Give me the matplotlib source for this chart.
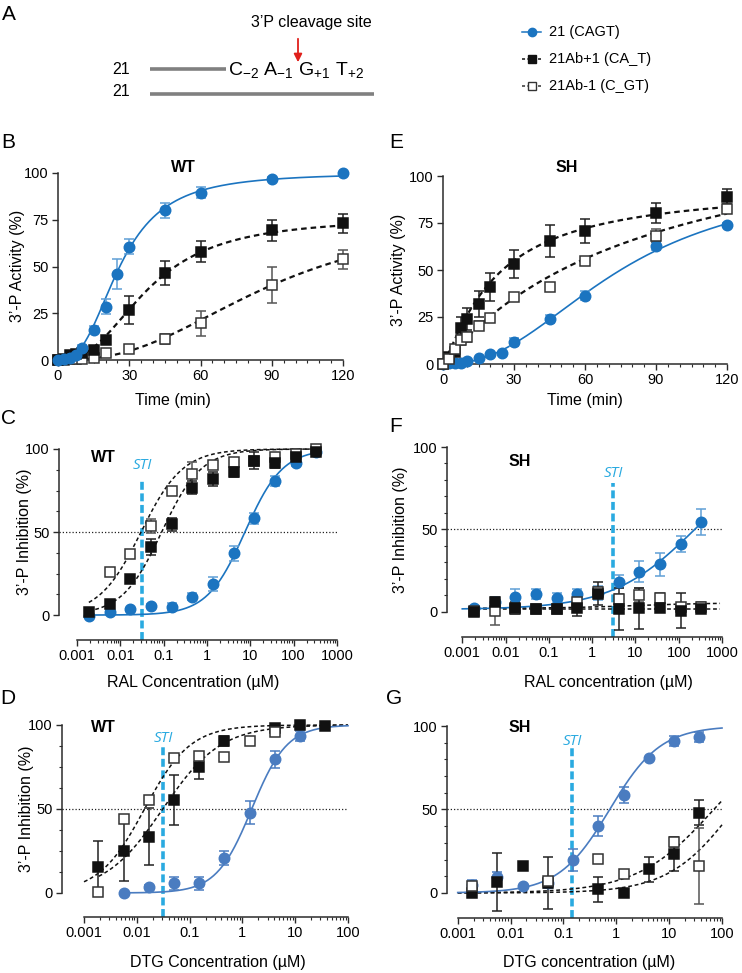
import numpy as np
import matplotlib
matplotlib.use("Agg")
import matplotlib.pyplot as plt
from matplotlib.ticker import MultipleLocator, FixedLocator, NullFormatter

plt.rcParams['font.family'] = ['Liberation Sans', 'DejaVu Sans']
plt.rcParams['mathtext.fontset'] = 'custom'
plt.rcParams['mathtext.rm'] = 'Liberation Sans'
plt.rcParams['mathtext.it'] = 'Liberation Sans:italic'

# ---------------- data ----------------
series_names = ["21 (CAGT)", "21Ab+1 (CA_T)", "21Ab-1 (C_GT)"]

# B: WT time course
b_t_blue = [0, 2.5, 5, 7.5, 10, 15, 20, 25, 30, 45, 60, 90, 120]
b_y_blue = [0, 0.3, 1, 2.5, 6.4, 16.2, 28.5, 46, 60.6, 80, 89.5, 96.8, 100]
b_e_blue = [0, 0, 0.5, 1, 1.5, 2, 4, 8, 4, 4, 3, 1, 0.5]
b_t_sq = [0, 2.5, 5, 7.5, 10, 15, 20, 30, 45, 60, 90, 120]
b_y_black = [0, 0.5, 2.5, 3, 3.5, 5.3, 10.7, 26.7, 46.7, 57.9, 69.3, 73.1]
b_e_black = [0, 0, 0.5, 1, 1, 1, 2, 7.5, 6.5, 5.5, 5.5, 5]
b_y_open = [0, 0, 0.3, 0.5, 0.7, 1, 3.6, 5.9, 11.2, 19.6, 40, 53.9]
b_e_open = [0, 0, 0, 0, 0, 0.5, 1, 1, 2.5, 6.5, 9.5, 5]

# E: SH time course
e_t_blue = [0, 2.5, 5, 7.5, 10, 15, 20, 25, 30, 45, 60, 90, 120]
e_y_blue = [0, 0.3, 0.7, 0.7, 1.6, 3.4, 5.1, 6, 11.7, 23.8, 36.4, 62.8, 74.1]
e_e_blue = [0, 0, 0, 0, 0.5, 0.5, 0.5, 0.5, 2, 2, 2.5, 2, 1]
e_t_sq = [0, 2.5, 5, 7.5, 10, 15, 20, 30, 45, 60, 90, 120]
e_y_black = [0, 3.5, 6.6, 19, 24, 32, 41.1, 53, 65.2, 70.6, 80.3, 89]
e_e_black = [0, 1, 2, 6, 6, 7, 7.5, 7.5, 8.5, 6.5, 5.5, 4]
e_y_open = [0, 2.5, 8, 12.8, 14.5, 20.4, 24.3, 35.8, 41, 54.8, 68.3, 82.3]
e_e_open = [0, 1, 2, 2.5, 3, 2.5, 2, 2, 2, 1, 3.5, 1]

# concentrations (uM)
conc_ral = [0.00188, 0.00564, 0.0169, 0.0508, 0.152, 0.457, 1.37, 4.11, 12.3, 37.0, 111, 333]
conc_dtg = [0.00188, 0.00564, 0.0169, 0.0508, 0.152, 0.457, 1.37, 4.11, 12.3, 37.0]
nan = np.nan

# C: WT RAL
c_y_blue = [-0.6, 2, 3.4, 5.6, 5, 11, 18.7, 37.2, 58.2, 80.7, 91.4, 98.4]
c_e_blue = [1, 1, 1, 1, 2.5, 2, 4, 4.5, 3.5, 3, 1.5, 1]
c_y_black = [2, 6.6, 22, 41, 54.6, 76.7, 82, 86.4, 93, 91.8, 95.4, 98]
c_e_black = [1, 1, 2, 5, 4, 4, 4, 3, 5, 3, 2, 1]
c_y_open = [nan, 26, 37, 53.6, 74.9, 85, 90.4, 92, 93, 95, 97, 100]
c_e_open = [0, 0.5, 1, 4, 2, 7, 1.5, 1, 1, 1, 1, 0.5]

# F: SH RAL
f_y_blue = [2.2, 6.2, 8.9, 10.9, 8.3, 10.7, 11.5, 18.4, 24.4, 28.9, 41.2, 54.7]
f_e_blue = [1.5, 3, 5, 3, 3, 3.5, 4, 4, 6.5, 7, 5, 8]
f_y_black = [0.2, 6.2, 2.2, 1.8, 1.6, 2.2, 10.9, 1.8, 2.2, 2.6, 0.8, 1.8]
f_e_black = [1.5, 2, 3.7, 1, 1, 4.8, 7, 13, 12.6, 1.5, 10.5, 2]
f_y_open = [0.5, 0.6, 2, 2, 2, 6.2, 12, 7.9, 10.3, 8.7, 3, 3.2]
f_e_open = [1, 8.5, 1, 1, 1, 2, 3, 3, 4, 3, 2, 3]

# D: WT DTG
d_y_blue = [nan, 0.2, 3.8, 5.8, 5.8, 20.7, 47.8, 79.6, 93.6, nan]
d_e_blue = [0, 0.5, 1, 4, 4, 4, 7, 5, 3, 0]
d_y_black = [15.7, 25, 33.5, 55.4, 74.8, 90.6, nan, 98, 100, 99.4]
d_e_black = [15.4, 18, 17, 14.7, 7, 3, 0, 1.5, 1, 1]
d_y_open = [0.4, 44, 55.4, 80.2, 81.7, 81.1, 90.6, 95.6, nan, nan]
d_e_open = [0, 0, 0, 0, 0, 0, 0, 1, 0, 0]

# G: SH DTG
g_y_blue = [4.8, 9.4, 4.4, 5.8, 19.8, 40.3, 58.7, 80.7, 91, 93.6]
g_e_blue = [3, 3, 0.5, 3, 6.4, 6, 5, 1, 3, 3]
g_y_black = [0, 6.8, 16.2, 6, nan, 2.2, 0.2, 14.2, 23.4, 48]
g_e_black = [1, 17.4, 0, 15.7, 0, 7.5, 0, 7.5, 10, 7.5]
g_y_open = [4, nan, nan, 7.2, nan, 20.4, 11.2, nan, 30.7, 16.2]
g_e_open = [2, 0, 0, 1, 0, 2, 1.5, 0, 3, 23]

# fitted-curve parameters (bottom, top, x50, hill)
fit_B = {"blue": (0, 100, 26, 2.7), "black": (0, 76, 38, 2.5), "open": (0, 80, 90, 2.5)}
fit_E = {"blue": (0, 100, 75, 2.3), "black": (0, 95, 23, 1.2), "open": (0, 140, 90, 1.0)}
fit_C = {"blue": (0, 100, 7.5, 1.0), "black": (0, 100, 0.09, 0.95), "open": (0, 100, 0.03, 0.9)}
fit_F = {"blue": (1.5, 100, 250, 0.45), "black": (1.8, 1.8, 1, 1), "open": (2.2, 5.5, 10, 0.5)}
fit_D = {"blue": (0, 100, 1.5, 1.3), "black": (0, 100, 0.031, 0.79), "open": (0, 100, 0.014, 1.0)}
fit_G = {"blue": (0, 100, 0.75, 0.9), "black": (0, 100, 70, 0.6), "open": (0, 100, 170, 0.7)}

sti_C, sti_F, sti_D, sti_G = 0.0316, 3.1, 0.0316, 0.145

# ---------------- style ----------------
W, H = 742, 973
BLUE = '#1b74c0'
BLUE2 = '#4a7cc0'
BLUE_ERR = '#5f9fd6'
STI = '#2aaae0'
SPINE = '#2b2b2b'
TICK_FS = 10.5
LAB_FS = 11.5

fig = plt.figure(figsize=(W / 100, H / 100), dpi=100)
ov = fig.add_axes([0, 0, 1, 1])
ov.set_xlim(0, W)
ov.set_ylim(H, 0)
ov.axis('off')
ov.set_zorder(5)


def add_ax(left, right, top, bottom):
    return fig.add_axes([left / W, 1 - bottom / H, (right - left) / W, (bottom - top) / H])


def hill(x, p):
    b, t, x50, n = p
    x = np.asarray(x, float)
    return b + (t - b) / (1 + (x50 / np.maximum(x, 1e-12)) ** n)


def style(ax):
    for s in ['top', 'right']:
        ax.spines[s].set_visible(False)
    for s in ['left', 'bottom']:
        ax.spines[s].set_color(SPINE)
        ax.spines[s].set_linewidth(1.1)
    ax.tick_params(which='major', direction='out', length=4.5, width=1.0, color=SPINE,
                   labelsize=TICK_FS, pad=2)
    ax.tick_params(which='minor', direction='out', length=2.5, width=0.8, color=SPINE)
    ax.patch.set_alpha(0)


def pts(ax, x, y, e, kind, blue=BLUE):
    x = np.asarray(x, float)
    y = np.asarray(y, float)
    e = np.asarray(e, float)
    if kind == 'blue':
        ecol, mfc, mec, mk, ms = BLUE_ERR if blue == BLUE else blue, blue, blue, 'o', 7.5
    elif kind == 'black':
        ecol, mfc, mec, mk, ms = '#222222', '#111111', '#111111', 's', 7
    else:
        ecol, mfc, mec, mk, ms = '#555555', 'white', '#333333', 's', 7
    m = ~np.isnan(y)
    em = m & (e > 0.8)
    ax.errorbar(x[em], y[em], yerr=e[em], fmt='none', ecolor=ecol, elinewidth=1.1,
                capsize=3.5, capthick=1.1, clip_on=False, zorder=3)
    ax.plot(x[m], y[m], linestyle='none', marker=mk, ms=ms, mfc=mfc, mec=mec, mew=1.1,
            clip_on=False, zorder=4)


def curve(ax, x, p, kind, blue=BLUE):
    if kind == 'blue':
        ax.plot(x, hill(x, p), color=blue, lw=1.2, zorder=2, clip_on=False)
    else:
        lw = 1.6 if ax.get_xscale() == 'linear' else 1.1
        ax.plot(x, hill(x, p), color='#111111', lw=lw, ls=(0, (2.5, 1.8)), zorder=2,
                clip_on=False)


# ---------------- panel A ----------------
ov.text(2, 15, 'A', fontsize=15, va='center', ha='left')
ov.text(311, 22, '3’P cleavage site', fontsize=11.5, ha='center', va='center')
ov.annotate('', xy=(298, 65), xytext=(298, 36),
            arrowprops=dict(arrowstyle='-|>', color='#e0201b', lw=1.3, mutation_scale=12))
ov.text(121, 69, '21', fontsize=11.5, ha='center', va='center')
ov.text(121, 92, '21', fontsize=11.5, ha='center', va='center')
ov.plot([150, 226], [69, 69], color='#808080', lw=2.6, solid_capstyle='butt')
ov.plot([150, 374], [94, 94], color='#808080', lw=2.6, solid_capstyle='butt')
ov.text(228, 70, r'C$_{\mathrm{-2}}$ A$_{\mathrm{-1}}$ G$_{\mathrm{+1}}$ T$_{\mathrm{+2}}$',
        fontsize=14, ha='left', va='center')

# legend
leg_y = [32, 59, 86]
styles = [('blue', '-', BLUE), ('black', (0, (2, 1.5)), '#111111'), ('open', (0, (2, 1.5)), '#333333')]
for yy, name, (kind, ls, col) in zip(leg_y, series_names, styles):
    ov.plot([522, 541], [yy, yy], color=col, lw=1.1, ls=ls)
    if kind == 'blue':
        ov.plot([531.5], [yy], marker='o', ms=6, color=BLUE)
    elif kind == 'black':
        ov.plot([531.5], [yy], marker='s', ms=5.5, color='#111111')
    else:
        ov.plot([531.5], [yy], marker='s', ms=5.5, mfc='white', mec='#333333', mew=1)
    ov.text(549, yy, name, fontsize=10.5, ha='left', va='center')

# ---------------- panel B ----------------
axB = add_ax(58, 343, 173, 360)
style(axB)
axB.set_xlim(0, 120)
axB.set_ylim(0, 100)
axB.set_xticks([0, 30, 60, 90, 120])
axB.xaxis.set_minor_locator(MultipleLocator(5))
axB.set_yticks([0, 25, 50, 75, 100])
tt = np.linspace(0, 120, 400)
curve(axB, tt, fit_B['open'], 'open')
curve(axB, tt, fit_B['black'], 'black')
curve(axB, tt, fit_B['blue'], 'blue')
pts(axB, b_t_sq, b_y_open, b_e_open, 'open')
pts(axB, b_t_sq, b_y_black, b_e_black, 'black')
pts(axB, b_t_blue, b_y_blue, b_e_blue, 'blue')

# ---------------- panel E ----------------
axE = add_ax(443, 727, 176, 364)
style(axE)
axE.set_xlim(0, 120)
axE.set_ylim(0, 100)
axE.set_xticks([0, 30, 60, 90, 120])
axE.xaxis.set_minor_locator(MultipleLocator(5))
axE.set_yticks([0, 25, 50, 75, 100])
curve(axE, tt, fit_E['open'], 'open')
curve(axE, tt, fit_E['black'], 'black')
curve(axE, tt, fit_E['blue'], 'blue')
pts(axE, e_t_blue, e_y_blue, e_e_blue, 'blue')
pts(axE, e_t_sq, e_y_black, e_e_black, 'black')
pts(axE, e_t_sq, e_y_open, e_e_open, 'open')


# ---------------- dose-response panels ----------------
def dose_ax(left, right, top, bottom, xmin_log, xmax, ybot, yminor):
    ax = add_ax(left, right, top, bottom)
    style(ax)
    ax.set_xscale('log')
    ax.set_xlim(10 ** xmin_log, xmax)
    ax.set_ylim(ybot, 100)
    ax.spines['left'].set_bounds(0, 100)
    ax.spines['bottom'].set_bounds(1e-3, xmax)
    ax.set_yticks([0, 50, 100])
    ax.yaxis.set_minor_locator(FixedLocator(list(np.arange(0, 100.01, yminor))))
    dec = [10.0 ** k for k in range(-3, int(round(np.log10(xmax))) + 1)]
    ax.xaxis.set_major_locator(FixedLocator(dec))
    ax.set_xticklabels([('%g' % d) for d in dec])
    minors = [m * d for d in dec[:-1] for m in range(2, 10)]
    ax.xaxis.set_minor_locator(FixedLocator(minors))
    ax.xaxis.set_minor_formatter(NullFormatter())
    ax.axhline(50, color='#222222', lw=0.9, ls=(0, (1, 1.6)), zorder=1)
    return ax


def sti(ax, x, ytop, ytxt):
    y0 = ax.get_ylim()[0]
    ax.plot([x, x], [y0, ytop], color=STI, lw=2.6, ls=(0, (2.2, 1.0)), zorder=1.5,
            clip_on=False)
    ax.text(x, ytxt, 'STI', color=STI, fontsize=11, style='italic',
            ha='center', va='center', family=['Open Sans', 'DejaVu Sans'])


# C
axC = dose_ax(59, 337, 449, 640, -3.415, 1000, -15, 12.5)
sti(axC, sti_C, 81, 90)
xc = np.logspace(np.log10(0.00188), np.log10(333), 300)
curve(axC, xc, fit_C['open'], 'open')
curve(axC, xc, fit_C['black'], 'black')
curve(axC, xc, fit_C['blue'], 'blue')
pts(axC, conc_ral, c_y_blue, c_e_blue, 'blue')
pts(axC, conc_ral, c_y_open, c_e_open, 'open')
pts(axC, conc_ral, c_y_black, c_e_black, 'black')

# F
axF = dose_ax(447, 722, 447, 637, -3.353, 1000, -15.2, 10)
sti(axF, sti_F, 78, 84)
xf = np.logspace(-3, np.log10(333), 300)
xf2 = np.logspace(np.log10(0.0015), np.log10(900), 300)
curve(axF, xf2, fit_F['open'], 'open')
curve(axF, xf2, fit_F['black'], 'black')
curve(axF, xf, fit_F['blue'], 'blue')
pts(axF, conc_ral, f_y_blue, f_e_blue, 'blue')
pts(axF, conc_ral, f_y_open, f_e_open, 'open')
pts(axF, conc_ral, f_y_black, f_e_black, 'black')

# D
axD = dose_ax(62, 348, 725, 917, -3.417, 100, -14.3, 12.5)
sti(axD, sti_D, 87, 92)
xd_b = np.logspace(np.log10(0.0056), 2, 300)
xd_k = np.logspace(np.log10(0.0019), 2, 300)
xd_o = np.logspace(-3, 2, 300)
curve(axD, xd_o, fit_D['open'], 'open')
curve(axD, xd_k, fit_D['black'], 'black')
curve(axD, xd_b, fit_D['blue'], 'blue', blue=BLUE2)
pts(axD, conc_dtg, d_y_blue, d_e_blue, 'blue', blue=BLUE2)
pts(axD, conc_dtg, d_y_black, d_e_black, 'black')
pts(axD, conc_dtg, d_y_open, d_e_open, 'open')

# G
axG = dose_ax(447, 722, 726, 918, -3.203, 100, -15, 10)
sti(axG, sti_G, 87, 91)
xg = np.logspace(-3, 2, 300)
curve(axG, xg, fit_G['open'], 'open')
curve(axG, xg, fit_G['black'], 'black')
curve(axG, xg, fit_G['blue'], 'blue', blue=BLUE2)
pts(axG, conc_dtg, g_y_blue, g_e_blue, 'blue', blue=BLUE2)
pts(axG, conc_dtg, g_y_black, g_e_black, 'black')
pts(axG, conc_dtg, g_y_open, g_e_open, 'open')

# ---------------- texts ----------------
letters = [('B', 8, 143), ('E', 396, 143), ('C', 8, 418), ('F', 396, 427), ('D', 8, 699), ('G', 394, 699)]
for s, x, y in letters:
    ov.text(x, y, s, fontsize=15, ha='center', va='center')

titles = [('WT', 183, 168, 'center'), ('SH', 567, 168, 'center'), ('WT', 103, 458, 'center'),
          ('SH', 520, 462, 'center'), ('WT', 103, 727, 'center'), ('SH', 520, 727, 'center')]
for s, x, y, ha in titles:
    ov.text(x, y, s, fontsize=11.5, fontweight='bold', ha=ha, va='center')

xlabels = [('Time (min)', 173, 400), ('Time (min)', 585, 400),
           ('RAL Concentration (µM)', 193, 682), ('RAL concentration (µM)', 608, 682),
           ('DTG Concentration (µM)', 218, 962), ('DTG concentration (µM)', 589, 962)]
for s, x, y in xlabels:
    ov.text(x, y, s, fontsize=LAB_FS, ha='center', va='center')

ylabels = [('3’-P Activity (%)', 18, 266), ('3’-P Activity (%)', 398, 270),
           ('3’-P Inhibition (%)', 25, 532), ('3’-P Inhibition (%)', 400, 530),
           ('3’-P Inhibition (%)', 27, 809)]
for s, x, y in ylabels:
    ov.text(x, y, s, fontsize=LAB_FS, ha='center', va='center', rotation=90)

fig.savefig('out.png', dpi=100)
